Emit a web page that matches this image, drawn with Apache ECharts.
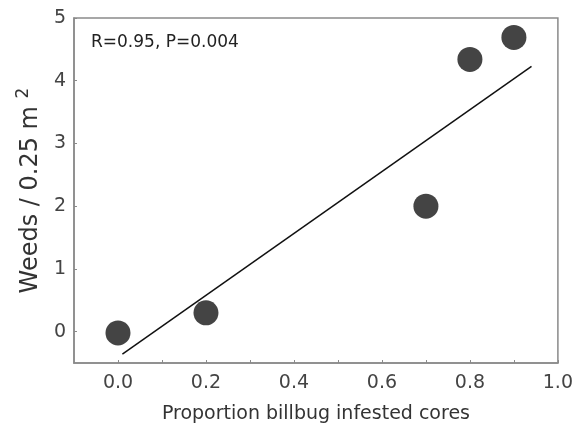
<!DOCTYPE html>
<html>
<head>
<meta charset="utf-8">
<script src="https://cdn.jsdelivr.net/npm/echarts@6/dist/echarts.min.js"></script>
<style>
  html, body { margin: 0; padding: 0; background: #fff; }
  #main { width: 576px; height: 430px; }
</style>
</head>
<body>
<div id="main"></div>
<script>
// observed points
var propInfested = [0.0, 0.2, 0.7, 0.8, 0.9];
var weeds = [-0.02, 0.30, 2.0, 4.34, 4.69];
// fitted line end points
var fitX = [0.01, 0.94];
var fitY = [-0.36, 4.23];
// tick labels
var xLabels = [0, 0.2, 0.4, 0.6, 0.8, 1.0];
var xTicks = [0, 0.1, 0.2, 0.3, 0.4, 0.5, 0.6, 0.7, 0.8, 0.9, 1.0];
var yLabels = [0, 1, 2, 3, 4, 5];
var statText = "R=0.95, P=0.004";

var font = "'DejaVu Sans', sans-serif";
var pts = propInfested.map(function (x, i) { return [x, weeds[i]]; });
var fit = fitX.map(function (x, i) { return [x, fitY[i]]; });

var chart = echarts.init(document.getElementById("main"));
chart.setOption({
  animation: false,
  backgroundColor: "#fff",
  grid: {
    left: 74, right: 18, top: 18, bottom: 67,
    show: true, borderColor: "#8a8a8a", borderWidth: 1.5
  },
  xAxis: {
    type: "value",
    min: -0.1, max: 1.0,
    name: "Proportion billbug infested cores",
    nameLocation: "middle",
    nameGap: 42,
    nameTextStyle: { fontFamily: font, fontSize: 19, color: "#333" },
    axisLine: { onZero: false, lineStyle: { color: "#8a8a8a", width: 1.5 } },
    axisTick: { inside: true, length: 3, customValues: xTicks, lineStyle: { color: "#8a8a8a" } },
    axisLabel: {
      customValues: xLabels,
      formatter: function (v) { return v.toFixed(1); },
      fontFamily: font, fontSize: 19, color: "#444", margin: 11
    },
    splitLine: { show: false }
  },
  yAxis: {
    type: "value",
    min: -0.5, max: 5,
    name: "Weeds / 0.25 m {sup|2}",
    nameLocation: "middle",
    nameRotate: 90,
    nameGap: 28,
    nameTextStyle: {
      fontFamily: font, fontSize: 24, color: "#333",
      rich: { sup: { fontFamily: font, fontSize: 17, color: "#333", padding: [0, 0, 14, 0] } }
    },
    axisLine: { onZero: false, lineStyle: { color: "#8a8a8a", width: 1.5 } },
    axisTick: { inside: true, length: 3, customValues: yLabels, lineStyle: { color: "#8a8a8a" } },
    axisLabel: {
      customValues: yLabels,
      fontFamily: font, fontSize: 19, color: "#444", margin: 8
    },
    splitLine: { show: false }
  },
  graphic: [{
    type: "text",
    left: 91, top: 34,
    style: { text: statText, font: "17px " + font, fill: "#222" }
  }],
  series: [
    {
      type: "line",
      data: fit,
      symbol: "none",
      lineStyle: { color: "#111", width: 1.5 },
      z: 2
    },
    {
      type: "scatter",
      data: pts,
      symbolSize: 25,
      itemStyle: { color: "#444", opacity: 1 },
      z: 3
    }
  ]
});
</script>
</body>
</html>
